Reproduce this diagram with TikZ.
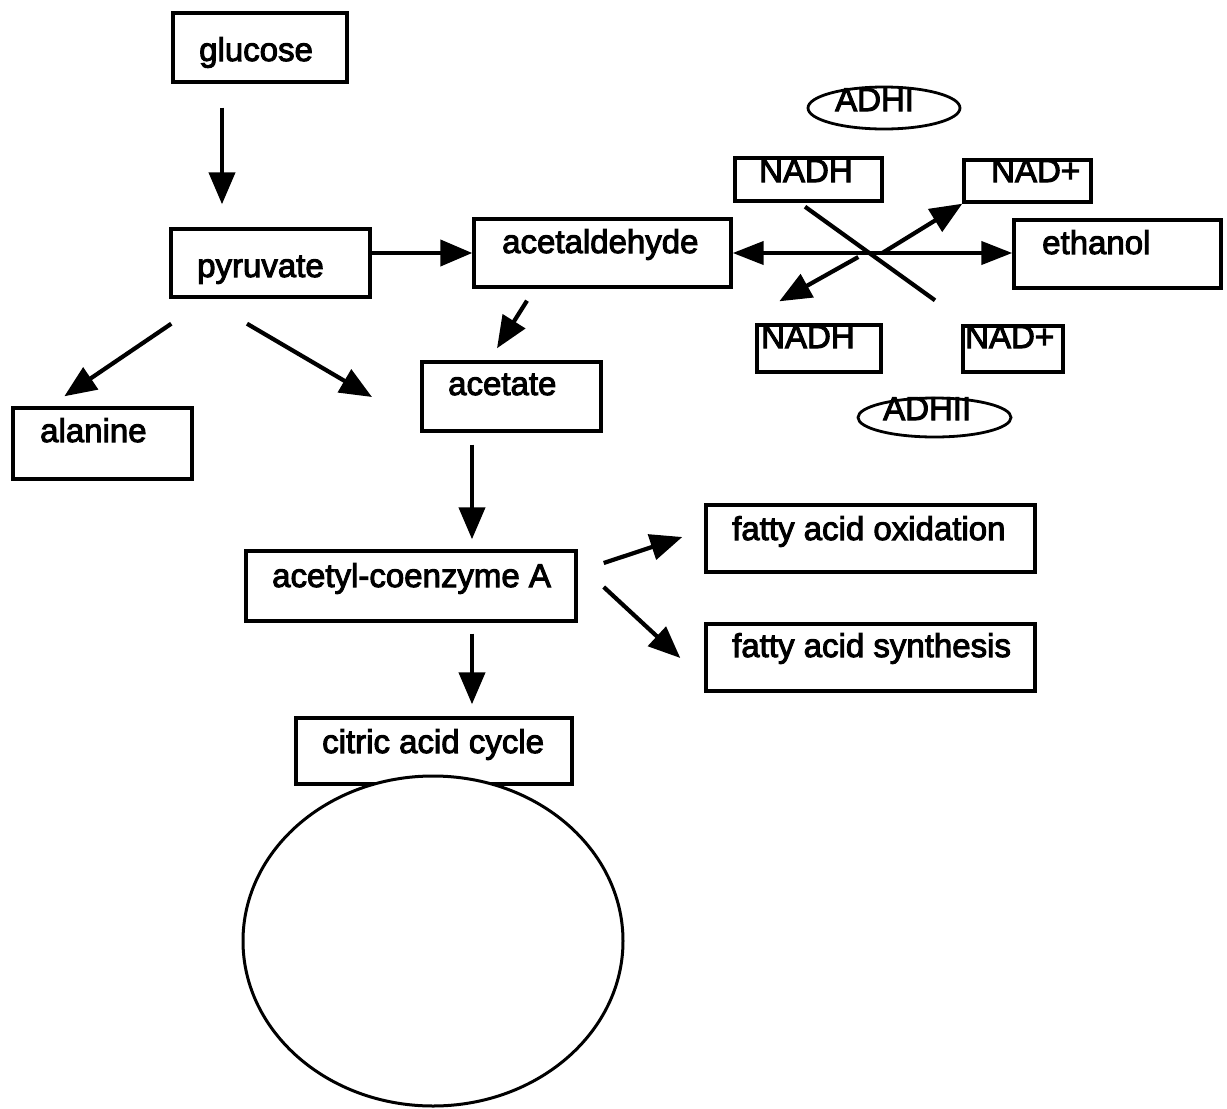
\documentclass[tikz,border=0pt]{standalone}
\usepackage{fontspec}
\setmainfont[FakeBold=3]{Liberation Sans}
\usetikzlibrary{arrows.meta,shapes.geometric,calc}
\begin{document}
\begin{tikzpicture}[x=1pt,y=-1pt,
  box/.style={draw,line width=3.4pt,rectangle,inner sep=0pt},
  oval/.style={draw,line width=2.8pt,ellipse,inner sep=0pt},
  lbl/.style={anchor=base west,inner sep=0pt,font=\fontsize{33}{40}\selectfont},
  arr/.style={line width=4.2pt,-{Triangle[length=32pt,width=26pt]}},
  arrtwo/.style={line width=4.2pt,{Triangle[length=31pt,width=23pt]}-{Triangle[length=31pt,width=23pt]}},
  plain/.style={line width=4.2pt}]
\useasboundingbox (0,0) rectangle (1227,1109);

% boxes
\node[box,minimum width=174pt,minimum height=69pt] (glc)   at (260,47.5) {};
\node[box,minimum width=199pt,minimum height=68pt] (pyr)   at (270.5,263) {};
\node[box,minimum width=257pt,minimum height=68pt] (ald)   at (602.5,253) {};
\node[box,minimum width=207pt,minimum height=68pt] (eth)   at (1117.5,254) {};
\node[box,minimum width=147pt,minimum height=43pt] (nadhA) at (808.5,179.5) {};
\node[box,minimum width=127pt,minimum height=42pt] (nadA)  at (1027.5,181) {};
\node[box,minimum width=124pt,minimum height=47pt] (nadhB) at (819,348.5) {};
\node[box,minimum width=100pt,minimum height=46pt] (nadB)  at (1013,349) {};
\node[oval,minimum width=152pt,minimum height=42pt] (adhA) at (884,108) {};
\node[oval,minimum width=153pt,minimum height=39pt] (adhB) at (934.5,417.5) {};
\node[box,minimum width=179pt,minimum height=71pt] (ala)   at (102.5,443.5) {};
\node[box,minimum width=179pt,minimum height=69pt] (ace)   at (511.5,396.5) {};
\node[box,minimum width=330pt,minimum height=70pt] (acoa)  at (411,586) {};
\node[box,minimum width=329pt,minimum height=67pt] (fox)   at (870.5,538.5) {};
\node[box,minimum width=329pt,minimum height=67pt] (fsy)   at (870.5,657.5) {};
\node[box,minimum width=276pt,minimum height=66pt] (cit)   at (434,751) {};
\node[draw,line width=3pt,ellipse,fill=white,minimum width=380pt,minimum height=330pt] (cyc) at (433,941) {};

% labels
\node[lbl] (glc-t)   at (199,61)  {glucose};
\node[lbl] (pyr-t)   at (197,277) {pyruvate};
\node[lbl] (ala-t)   at (40,442)  {alanine};
\node[lbl] (ald-t)   at (502,253) {acetaldehyde};
\node[lbl] (ace-t)   at (448,395) {acetate};
\node[lbl] (eth-t)   at (1042,254) {ethanol};
\node[lbl] (nadhA-t) at (759,182) {NADH};
\node[lbl] (nadA-t)  at (991,182) {NAD+};
\node[lbl] (nadhB-t) at (761,348) {NADH};
\node[lbl] (nadB-t)  at (965,348) {NAD+};
\node[lbl] (adhA-t)  at (835,111) {ADHI};
\node[lbl] (adhB-t)  at (883,420) {ADHII};
\node[lbl] (acoa-t)  at (272,587) {acetyl-coenzyme A};
\node[lbl] (fox-t)   at (732,540) {fatty acid oxidation};
\node[lbl] (fsy-t)   at (732,657) {fatty acid synthesis};
\node[lbl] (cit-t)   at (322,753) {citric acid cycle};

\coordinate (pyrfree) at (372,397);

% connectors
\draw[arr] ([shift={(-38,24)}]glc.south) -- ([shift={(-48.5,-23)}]pyr.north);
\draw[arr] (pyr.east |- ald.west) -- (ald.west);
\draw[arrtwo] (ald.east) -- (ald.east -| eth.west);
\draw[arr] ([shift={(2,25)}]pyr.south west) -- ([shift={(53,-10)}]ala.north west);
\draw[arr] ([shift={(-23.5,25)}]pyr.south) -- (pyrfree);
\draw[arr] ([shift={(-75.5,12)}]ald.south) -- ([shift={(-14.5,-12)}]ace.north);
\draw[arr] ([shift={(-39.5,12)}]ace.south) -- ([shift={(61,-10)}]acoa.north);
\draw[arr] ([shift={(26,-23)}]acoa.east) -- ([shift={(-22,-1.5)}]fox.west);
\draw[arr] ([shift={(26,1)}]acoa.east) -- ([shift={(-24,0.5)}]fsy.west);
\draw[arr] ([shift={(61,11)}]acoa.south) -- ([shift={(38,-12)}]cit.north);
\draw[plain] ([shift={(-3.5,4)}]nadhA.south) -- ([shift={(-78,-24)}]nadB.north);
\draw[arr] ([shift={(-130,-1)}]eth.west) -- (nadA.south west);
\draw[arr] ([shift={(-154,3)}]eth.west) -- ([shift={(24,-22)}]nadhB.north west);
\end{tikzpicture}
\end{document}
